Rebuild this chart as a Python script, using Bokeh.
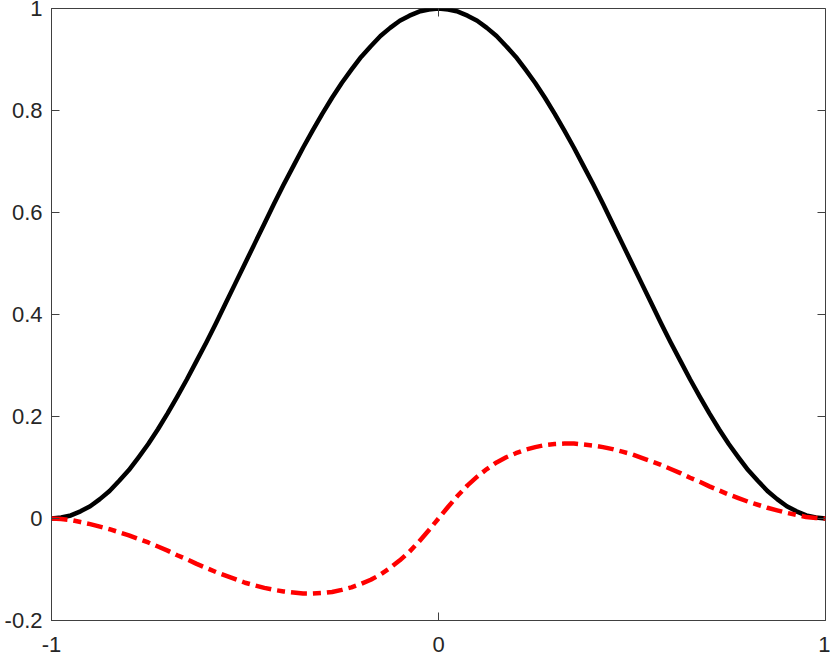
import math
from bokeh.plotting import figure
from bokeh.models import FixedTicker, Range1d
from bokeh.embed import file_html
from bokeh.resources import INLINE

# sample positions along x
x_vals = [-1.000, -0.975, -0.950, -0.925, -0.900, -0.875, -0.850, -0.825, -0.800, -0.775,
          -0.750, -0.725, -0.700, -0.675, -0.650, -0.625, -0.600, -0.575, -0.550, -0.525,
          -0.500, -0.475, -0.450, -0.425, -0.400, -0.375, -0.350, -0.325, -0.300, -0.275,
          -0.250, -0.225, -0.200, -0.175, -0.150, -0.125, -0.100, -0.075, -0.050, -0.025,
          0.000,
          0.025, 0.050, 0.075, 0.100, 0.125, 0.150, 0.175, 0.200, 0.225, 0.250,
          0.275, 0.300, 0.325, 0.350, 0.375, 0.400, 0.425, 0.450, 0.475, 0.500,
          0.525, 0.550, 0.575, 0.600, 0.625, 0.650, 0.675, 0.700, 0.725, 0.750,
          0.775, 0.800, 0.825, 0.850, 0.875, 0.900, 0.925, 0.950, 0.975, 1.000]

# solid black curve
u_black = [0.000, 0.002, 0.006, 0.014, 0.024, 0.038, 0.054, 0.074, 0.095, 0.120,
           0.146, 0.175, 0.206, 0.239, 0.273, 0.309, 0.345, 0.383, 0.422, 0.461,
           0.500, 0.539, 0.578, 0.617, 0.655, 0.691, 0.727, 0.761, 0.794, 0.825,
           0.854, 0.880, 0.905, 0.926, 0.946, 0.962, 0.976, 0.986, 0.994, 0.998,
           1.000,
           0.998, 0.994, 0.986, 0.976, 0.962, 0.946, 0.926, 0.905, 0.880, 0.854,
           0.825, 0.794, 0.761, 0.727, 0.691, 0.655, 0.617, 0.578, 0.539, 0.500,
           0.461, 0.422, 0.383, 0.345, 0.309, 0.273, 0.239, 0.206, 0.175, 0.146,
           0.120, 0.095, 0.074, 0.054, 0.038, 0.024, 0.014, 0.006, 0.002, 0.000]

# red dash-dot curve
u_red = [0.000, -0.001, -0.003, -0.007, -0.011, -0.016, -0.021, -0.027, -0.033, -0.040,
         -0.047, -0.055, -0.063, -0.072, -0.080, -0.089, -0.097, -0.105, -0.112, -0.119,
         -0.126, -0.131, -0.136, -0.140, -0.143, -0.145, -0.147, -0.147, -0.146, -0.144,
         -0.140, -0.135, -0.128, -0.120, -0.110, -0.097, -0.082, -0.065, -0.045, -0.023,
         0.000,
         0.023, 0.045, 0.065, 0.082, 0.097, 0.110, 0.120, 0.128, 0.135, 0.140,
         0.144, 0.146, 0.147, 0.147, 0.145, 0.143, 0.140, 0.136, 0.131, 0.126,
         0.119, 0.112, 0.105, 0.097, 0.089, 0.080, 0.072, 0.063, 0.055, 0.047,
         0.040, 0.033, 0.027, 0.021, 0.016, 0.011, 0.007, 0.003, 0.001, 0.000]

x_ticks = [-1, 0, 1]
x_tick_labels = ["-1", "0", "1"]
y_ticks = [-0.2, 0, 0.2, 0.4, 0.6, 0.8, 1]
y_tick_labels = ["-0.2", "0", "0.2", "0.4", "0.6", "0.8", "1"]
x_lim = [-1, 1]
y_lim = [-0.2, 1]

AX_COLOR = "#404040"
LABEL_COLOR = "#262626"
FONT = "Liberation Sans"

p = figure(width=830, height=657, output_backend="svg", toolbar_location=None,
           x_range=Range1d(*x_lim), y_range=Range1d(*y_lim),
           min_border_left=51, min_border_right=5, min_border_top=8, min_border_bottom=37)
p.grid.visible = False
p.background_fill_color = "white"
p.border_fill_color = "white"
p.outline_line_color = AX_COLOR
p.outline_line_width = 1

p.line(x_vals, u_black, line_color="black", line_width=4.5, line_join="round")
p.line(x_vals, u_red, line_color="#ff0000", line_width=4.5, line_dash="16 6 8 6")


def style_axis(ax, ticks, labels, standoff):
    ax.ticker = FixedTicker(ticks=ticks)
    ax.minor_tick_line_color = None
    ax.major_tick_in = 8
    ax.major_tick_out = 0
    ax.major_tick_line_color = AX_COLOR
    ax.axis_line_color = AX_COLOR
    ax.major_label_text_font = FONT
    ax.major_label_text_color = LABEL_COLOR
    ax.major_label_overrides = dict(zip(ticks, labels))
    ax.major_label_text_font_size = "22px"
    ax.major_label_standoff = standoff


style_axis(p.xaxis[0], x_ticks, x_tick_labels, 16)
style_axis(p.yaxis[0], y_ticks, y_tick_labels, 9)

# mirrored inward tick marks on the top and right edges (half clipped by the frame)
p.scatter(x=x_ticks, y=[y_lim[1]] * len(x_ticks), marker="dash", size=16,
          angle=math.pi / 2, line_color=AX_COLOR, line_width=1)
p.scatter(x=[x_lim[1]] * len(y_ticks), y=y_ticks, marker="dash", size=16,
          line_color=AX_COLOR, line_width=1)

open("out.html", "w").write(file_html(p, INLINE))
